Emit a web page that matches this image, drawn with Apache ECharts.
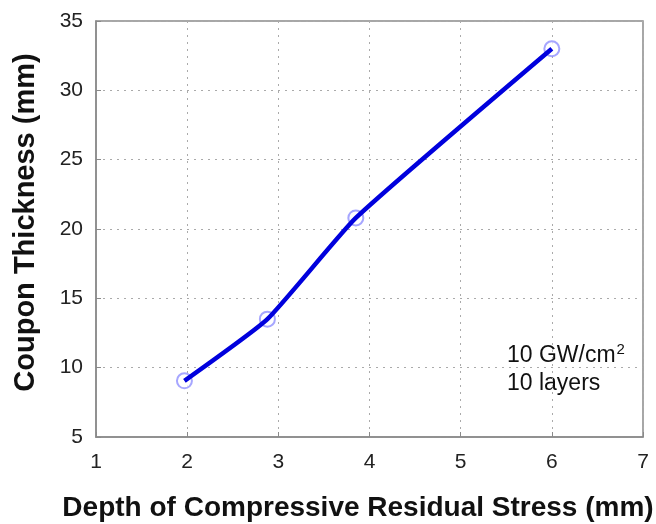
<!DOCTYPE html>
<html><head><meta charset="utf-8">
<script src="https://cdn.jsdelivr.net/npm/echarts@6/dist/echarts.min.js"></script>
<style>html,body{margin:0;padding:0;background:#fff}#c{width:656px;height:524px}</style>
</head><body><div id="c"></div>
<script>
var depth = [1.97, 2.88, 3.85, 6.0];
var thickness = [9.05, 13.5, 20.8, 33.0];
var xTicks = [1, 2, 3, 4, 5, 6, 7];
var yTicks = [5, 10, 15, 20, 25, 30, 35];
var xTitle = 'Depth of Compressive Residual Stress (mm)';
var yTitle = 'Coupon Thickness (mm)';

var pts = depth.map(function(d, i){ return [d, thickness[i]]; });
var chart = echarts.init(document.getElementById('c'));
var axisCommon = {
  axisLine: {show: true, lineStyle: {color: '#8a8a8a', width: 1.5}},
  axisTick: {show: true, inside: true, length: 5, lineStyle: {color: '#8a8a8a'}},
  splitLine: {show: true, lineStyle: {color: '#aaaaaa', type: [2, 5], width: 1}},
  axisLabel: {color: '#222', fontFamily: 'Liberation Sans, Arial', fontSize: 21}
};
chart.setOption({
  animation: false,
  grid: {left: 96, right: 13, top: 21, bottom: 87, show: true, borderColor: '#8a8a8a', borderWidth: 1.5,
         containLabel: false, outerBoundsMode: 'none'},
  xAxis: Object.assign({}, axisCommon, {
    type: 'value', min: xTicks[0], max: xTicks[xTicks.length-1], interval: 1,
    name: xTitle, nameLocation: 'middle', nameGap: 57,
    nameTextStyle: {fontFamily: 'Liberation Sans, Arial', fontWeight: 'bold', fontSize: 28, color: '#111',
                    padding: [0, 23, 0, 0]},
    axisLabel: Object.assign({}, axisCommon.axisLabel, {margin: 15})
  }),
  yAxis: Object.assign({}, axisCommon, {
    type: 'value', min: yTicks[0], max: yTicks[yTicks.length-1], interval: 5,
    name: yTitle, nameLocation: 'middle', nameGap: 56,
    nameTextStyle: {fontFamily: 'Liberation Sans, Arial', fontWeight: 'bold', fontSize: 29, color: '#111',
                    padding: [0, 0, 0, 13]},
    axisLabel: Object.assign({}, axisCommon.axisLabel, {margin: 13})
  }),
  series: [
    {type: 'scatter', data: pts, symbol: 'emptyCircle', symbolSize: 15, z: 1,
     itemStyle: {color: '#9090ff', borderColor: '#9090ff', borderWidth: 1.1}},
    {type: 'line', data: pts, symbol: 'none', smooth: 0.15, z: 3,
     lineStyle: {color: '#0000dd', width: 4.5}}
  ],
  graphic: [{
    type: 'text', left: 507, top: 342,
    style: {
      text: '{a|10 GW/cm}{s|2}\n{a|10 layers}',
      rich: {
        a: {fontFamily: 'Liberation Sans, Arial', fontSize: 23, fill: '#111', lineHeight: 28},
        s: {fontFamily: 'Liberation Sans, Arial', fontSize: 15, fill: '#111', verticalAlign: 'top', lineHeight: 28, padding: [0,0,12,1]}
      }
    }
  }]
});
</script></body></html>
